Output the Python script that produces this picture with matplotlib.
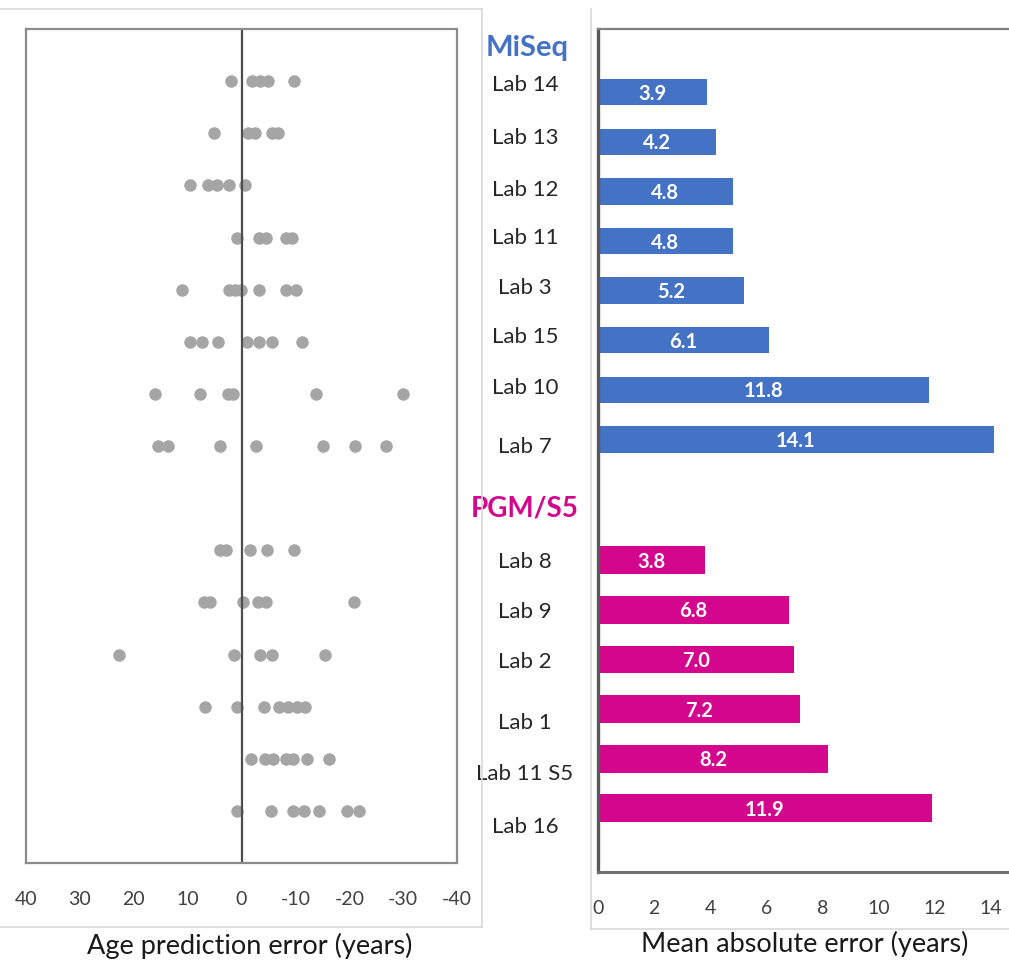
import numpy as np
import matplotlib
matplotlib.use("Agg")
from matplotlib import pyplot as plt
from matplotlib.lines import Line2D

plt.rcParams['font.family'] = ['Lato', 'DejaVu Sans']

# left panel: individual age prediction errors (years), one row per lab
err_miseq = [
    [2.0, -1.9, -3.4, -4.9, -9.8],                 # Lab 14
    [5.1, -1.2, -2.5, -5.6, -6.8],                 # Lab 13
    [9.6, 6.2, 4.6, 2.3, -0.7],                    # Lab 12
    [0.8, -3.3, -4.6, -8.3, -9.3],                 # Lab 11
    [11.1, 2.3, 1.2, 0.1, -3.3, -8.3, -10.1],      # Lab 3
    [9.5, 7.4, 4.3, -1.0, -3.3, -5.6, -11.3],      # Lab 15
    [16.0, 7.7, 2.5, 1.6, -13.9, -29.9],           # Lab 10
    [15.5, 13.6, 4.0, -2.7, -15.1, -21.0, -26.8],  # Lab 7
]
err_pgm = [
    [4.0, 2.8, -1.5, -4.7, -9.8],                        # Lab 8
    [7.0, 5.8, -0.2, -3.1, -4.6, -20.8],                 # Lab 9
    [22.8, 1.4, -3.5, -5.7, -15.5],                      # Lab 2
    [6.7, 0.9, -4.1, -7.0, -8.6, -10.3, -11.7],          # Lab 1
    [-1.7, -4.3, -5.9, -8.3, -9.5, -12.2, -16.3],        # Lab 11 S5
    [0.9, -5.4, -9.5, -11.6, -14.3, -19.6, -21.9],       # Lab 16
]

# right panel: mean absolute error
labs_miseq = ["Lab 14", "Lab 13", "Lab 12", "Lab 11", "Lab 3", "Lab 15", "Lab 10", "Lab 7"]
mae_miseq = [3.9, 4.2, 4.8, 4.8, 5.2, 6.1, 11.8, 14.1]
labs_pgm = ["Lab 8", "Lab 9", "Lab 2", "Lab 1", "Lab 11 S5", "Lab 16"]
mae_pgm = [3.8, 6.8, 7.0, 7.2, 8.2, 11.9]

left_ticks = [40, 30, 20, 10, 0, -10, -20, -30, -40]
right_ticks = [0, 2, 4, 6, 8, 10, 12, 14]

blue = '#4472C4'
magenta = '#D5068E'
W, H = 1009, 966

fig = plt.figure(figsize=(W / 100, H / 100), dpi=100)

# ---- left panel
ax1 = fig.add_axes([26 / W, 1 - 863 / H, 431 / W, 834 / H])
rows = list(range(len(err_miseq))) + [r + len(err_miseq) + 1 for r in range(len(err_pgm))]
for r, vals in zip(rows, err_miseq + err_pgm):
    ax1.plot(vals, [r] * len(vals), 'o', color='#A5A5A5', markersize=9,
             markeredgewidth=0, linestyle='none')
ax1.axvline(0, color='#4d4d4d', lw=1.6)
ax1.set_xlim(40, -40)
ax1.set_ylim(15, -1)
ax1.set_yticks([])
ax1.set_xticks(left_ticks)
ax1.set_xticklabels([str(t) for t in left_ticks])
ax1.tick_params(axis='x', length=0, pad=20, labelsize=14, labelcolor='#404040')
for s in ax1.spines.values():
    s.set_color('#8c8c8c')
    s.set_linewidth(1.6)
fig.text(250 / W, 1 - 946 / H, "Age prediction error (years)", ha='center', va='center',
         fontsize=19.5, color='#1a1a1a')

# ---- right panel
ax2 = fig.add_axes([598 / W, 1 - 872 / H, 411 / W, 843 / H])
y_miseq = np.arange(len(mae_miseq))
y_pgm = np.arange(len(mae_pgm)) + 9.435
ax2.barh(y_miseq, mae_miseq, height=0.53, color=blue)
ax2.barh(y_pgm, mae_pgm, height=0.56, color=magenta)
for y, v in zip(list(y_miseq) + list(y_pgm), mae_miseq + mae_pgm):
    ax2.text(v / 2, y + 0.03, f"{v:.1f}", ha='center', va='center', color='white',
             fontsize=14.5, fontweight='bold')
ax2.set_xlim(0, 14.65)
ax2.set_ylim(15.72, -1.274)
ax2.set_yticks([])
ax2.set_xticks(right_ticks)
ax2.tick_params(axis='x', length=0, pad=20, labelsize=14, labelcolor='#404040')
ax2.spines['right'].set_visible(False)
ax2.spines['top'].set_color('#7f7f7f')
ax2.spines['top'].set_linewidth(1.6)
ax2.spines['bottom'].set_color('#6f6f6f')
ax2.spines['bottom'].set_linewidth(2.2)
ax2.spines['left'].set_color('#595959')
ax2.spines['left'].set_linewidth(2.4)

# category labels sit slightly off the bar centres, as in the original layout
shift_miseq = [-0.15, -0.08, -0.03, -0.06, -0.05, -0.06, -0.03, 0.15]
shift_pgm = [0.04, 0.05, 0.06, 0.29, 0.30, 0.37]
tr = ax2.get_yaxis_transform()
lx = (525 - 598) / 411
for y, s, lab in zip(y_miseq, shift_miseq, labs_miseq):
    ax2.text(lx, y + s, lab, transform=tr, ha='center', va='center', fontsize=16,
             color='#262626', clip_on=False)
for y, s, lab in zip(y_pgm, shift_pgm, labs_pgm):
    ax2.text(lx, y + s, lab, transform=tr, ha='center', va='center', fontsize=16,
             color='#262626', clip_on=False)
ax2.text(lx + 0.004, -0.89, "MiSeq", transform=tr, ha='center', va='center', fontsize=21,
         fontweight='bold', color=blue, clip_on=False)
ax2.text(lx, 8.39, "PGM/S5", transform=tr, ha='center', va='center', fontsize=20,
         fontweight='bold', color=magenta, clip_on=False)
fig.text(805 / W, 1 - 944 / H, "Mean absolute error (years)", ha='center', va='center',
         fontsize=19.5, color='#1a1a1a')

# faint panel frames
def px_line(x0, y0, x1, y1):
    fig.add_artist(Line2D([x0 / W, x1 / W], [1 - y0 / H, 1 - y1 / H],
                          transform=fig.transFigure, color='#d9d9d9', lw=1.2))

px_line(0, 9, 482, 9)
px_line(482, 9, 482, 927)
px_line(0, 927, 482, 927)
px_line(591, 9, 591, 929)
px_line(591, 929, 1009, 929)

fig.savefig("out.png", dpi=100)
